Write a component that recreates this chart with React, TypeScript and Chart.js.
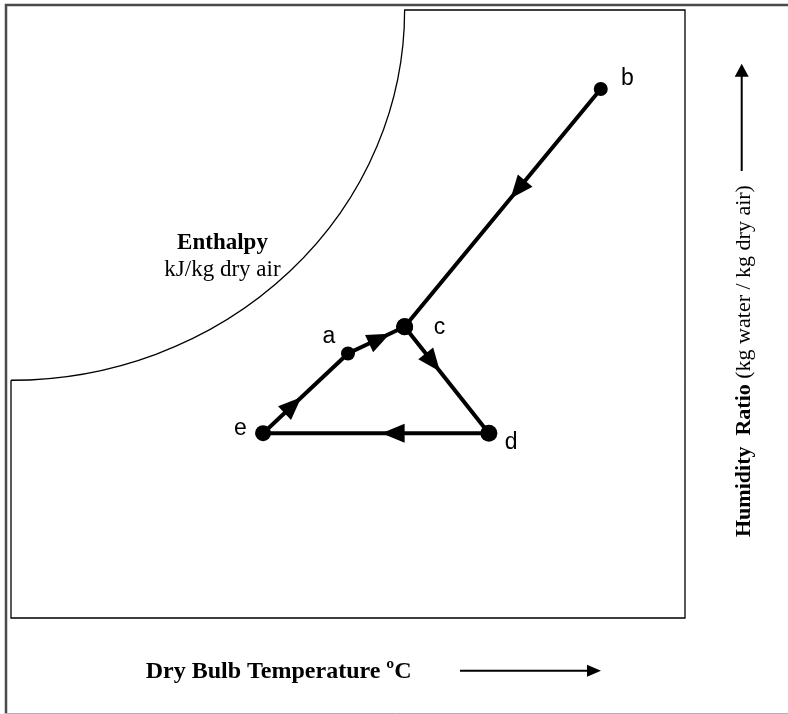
import React, { useEffect, useRef } from 'react';
import { Chart, registerables } from 'chart.js';

Chart.register(...registerables);

// ---- Data (schematic psychrometric chart, unitless 0..100 axes) ----
const stateNames = ['a', 'b', 'c', 'd', 'e'];
const dryBulbTemp = [50.0, 87.5, 58.4, 70.9, 37.4];
const humidityRatio = [43.5, 87.0, 47.9, 30.4, 30.4];
// Order in which the process visits the states
const processPath = ['b', 'c', 'd', 'e', 'a', 'c'];
// Position of the direction arrow along each path segment (0..1)
const arrowPositions = [0.46, 0.42, 0.475, 0.45, 0.74];
// Enthalpy line intercepts: top edge (dry bulb) and left edge (humidity ratio)
const enthalpyTopX = [58.4];
const enthalpyLeftY = [39.1];

const xAxisTitle = 'Dry Bulb Temperature ºC';
const yAxisTitleBold = 'Humidity  Ratio';
const yAxisTitleNormal = ' (kg water / kg dry air)';
const enthalpyTitle = 'Enthalpy';
const enthalpyUnits = 'kJ/kg dry air';

// ---- Styles ----
const pointSize: Record<string, number> = { a: 7, b: 7, c: 8.5, d: 8.5, e: 8 };
const labelOffset: Record<string, [number, number]> = {
  a: [-19, -10.6],
  b: [26.7, -4.5],
  c: [35, 6.8],
  d: [22.3, 15.6],
  e: [-22.6, 2],
};
const SERIF = '"Liberation Serif", "Times New Roman", serif';
const SANS = '"Liberation Sans", Arial, sans-serif';

function arrowHead(ctx: CanvasRenderingContext2D, x: number, y: number, angle: number, len: number, half: number) {
  ctx.save();
  ctx.translate(x, y);
  ctx.rotate(angle);
  ctx.beginPath();
  ctx.moveTo(0, 0);
  ctx.lineTo(-len, -half);
  ctx.lineTo(-len, half);
  ctx.closePath();
  ctx.fill();
  ctx.restore();
}

const diagramPlugin = {
  id: 'diagram',
  beforeDatasetsDraw(chart: any) {
    const { ctx, chartArea: ca, scales } = chart;
    const xs = scales.x;
    const ys = scales.y;
    const cx = xs.getPixelForValue(0);
    const cy = ys.getPixelForValue(100);
    const rx = xs.getPixelForValue(enthalpyTopX[0]) - cx;
    const ry = ys.getPixelForValue(enthalpyLeftY[0]) - cy;
    ctx.save();
    // outer picture frame
    ctx.strokeStyle = '#4a4a4a';
    ctx.lineWidth = 2.5;
    ctx.beginPath();
    ctx.moveTo(6, 714);
    ctx.lineTo(6, 5);
    ctx.lineTo(788, 5);
    ctx.stroke();
    ctx.strokeStyle = '#b0b0b0';
    ctx.lineWidth = 1;
    ctx.beginPath();
    ctx.moveTo(5, 713.5);
    ctx.lineTo(788, 713.5);
    ctx.stroke();
    // chart box with enthalpy curve
    ctx.strokeStyle = '#000';
    ctx.lineWidth = 1.3;
    ctx.beginPath();
    ctx.moveTo(ca.left, cy + ry);
    ctx.lineTo(ca.left, ca.bottom);
    ctx.lineTo(ca.right, ca.bottom);
    ctx.lineTo(ca.right, ca.top);
    ctx.lineTo(cx + rx, ca.top);
    ctx.ellipse(cx, cy, rx, ry, 0, 0, Math.PI / 2);
    ctx.stroke();

    // enthalpy label
    ctx.fillStyle = '#000';
    ctx.textAlign = 'center';
    ctx.textBaseline = 'alphabetic';
    ctx.font = `bold 23px ${SERIF}`;
    ctx.fillText(enthalpyTitle, 222.5, 249);
    ctx.font = `23px ${SERIF}`;
    ctx.fillText(enthalpyUnits, 222.5, 276);

    // x axis title + arrow
    ctx.textAlign = 'left';
    ctx.font = `bold 24px ${SERIF}`;
    ctx.fillText(xAxisTitle, 145.7, 678);
    ctx.lineWidth = 2;
    ctx.beginPath();
    ctx.moveTo(460, 670.7);
    ctx.lineTo(590, 670.7);
    ctx.stroke();
    arrowHead(ctx, 601, 670.7, 0, 14, 6);

    // y axis title + arrow
    ctx.save();
    ctx.translate(750, 537);
    ctx.rotate(-Math.PI / 2);
    ctx.font = `bold 22px ${SERIF}`;
    ctx.fillText(yAxisTitleBold, 0, 0);
    const w = ctx.measureText(yAxisTitleBold).width;
    ctx.font = `22px ${SERIF}`;
    ctx.fillText(yAxisTitleNormal, w, 0);
    ctx.restore();
    ctx.beginPath();
    ctx.moveTo(741.7, 171);
    ctx.lineTo(741.7, 75);
    ctx.stroke();
    arrowHead(ctx, 741.7, 63.8, -Math.PI / 2, 13, 7);
    ctx.restore();
  },
  afterDatasetsDraw(chart: any) {
    const { ctx, scales } = chart;
    const xs = scales.x;
    const ys = scales.y;
    const px = (name: string) => {
      const i = stateNames.indexOf(name);
      return [xs.getPixelForValue(dryBulbTemp[i]), ys.getPixelForValue(humidityRatio[i])];
    };
    ctx.save();
    ctx.fillStyle = '#000';
    for (let i = 0; i < processPath.length - 1; i++) {
      const [x0, y0] = px(processPath[i]);
      const [x1, y1] = px(processPath[i + 1]);
      const t = arrowPositions[i];
      const ang = Math.atan2(y1 - y0, x1 - x0);
      arrowHead(ctx, x0 + t * (x1 - x0), y0 + t * (y1 - y0), ang, 23, 9.5);
    }
    ctx.font = `23px ${SANS}`;
    ctx.textAlign = 'center';
    ctx.textBaseline = 'alphabetic';
    for (const name of stateNames) {
      const [x, y] = px(name);
      const [dx, dy] = labelOffset[name];
      ctx.fillText(name, x + dx, y + dy);
    }
    ctx.restore();
  },
};

export default function App() {
  const canvasRef = useRef<HTMLCanvasElement | null>(null);

  useEffect(() => {
    const canvas = canvasRef.current;
    if (!canvas) return;
    const pathData = processPath.map((n) => {
      const i = stateNames.indexOf(n);
      return { x: dryBulbTemp[i], y: humidityRatio[i] };
    });
    const chart = new Chart(canvas, {
      type: 'line',
      data: {
        datasets: [
          {
            label: 'Process',
            data: pathData,
            borderColor: '#000',
            backgroundColor: '#000',
            borderWidth: 4,
            pointBackgroundColor: '#000',
            pointBorderColor: '#000',
            pointBorderWidth: 0,
            pointRadius: processPath.map((n) => pointSize[n]),
            pointHoverRadius: processPath.map((n) => pointSize[n]),
            tension: 0,
            fill: false,
          },
        ],
      },
      options: {
        responsive: false,
        animation: false,
        devicePixelRatio: 1,
        layout: { padding: { left: 11, top: 10, right: 103, bottom: 96 } },
        scales: {
          x: { type: 'linear', min: 0, max: 100, display: false },
          y: { type: 'linear', min: 0, max: 100, display: false },
        },
        plugins: {
          legend: { display: false },
          tooltip: { enabled: false },
          title: { display: false },
        },
        events: [],
      },
      plugins: [diagramPlugin],
    });
    return () => chart.destroy();
  }, []);

  return (
    <div style={{ position: 'absolute', left: 0, top: 0, width: 788, height: 714, background: '#fff' }}>
      <canvas ref={canvasRef} width={788} height={714} style={{ display: 'block', width: 788, height: 714 }} />
    </div>
  );
}
